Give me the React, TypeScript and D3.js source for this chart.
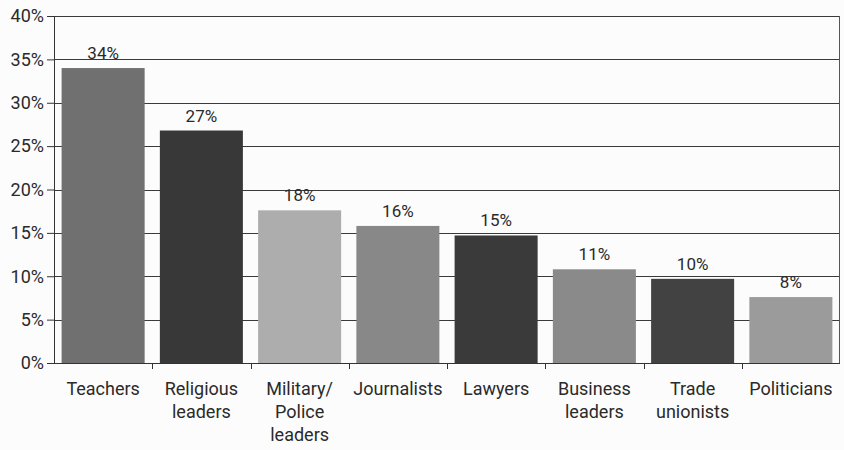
import { useEffect, useRef } from "react";
import * as d3 from "d3";

const categories = [
  "Teachers",
  "Religious leaders",
  "Military/ Police leaders",
  "Journalists",
  "Lawyers",
  "Business leaders",
  "Trade unionists",
  "Politicians",
];
const values = [34, 26.8, 17.6, 15.8, 14.7, 10.8, 9.7, 7.6];
const barColors = ["#707070", "#383838", "#adadad", "#888888", "#3a3a3a", "#8a8a8a", "#424242", "#9b9b9b"];
const yTicks = [0, 5, 10, 15, 20, 25, 30, 35, 40];

const labelLines: Record<string, string[]> = {
  "Religious leaders": ["Religious", "leaders"],
  "Military/ Police leaders": ["Military/", "Police", "leaders"],
  "Business leaders": ["Business", "leaders"],
  "Trade unionists": ["Trade", "unionists"],
};

export default function App() {
  const ref = useRef<SVGSVGElement>(null);
  const width = 844;
  const height = 450;

  useEffect(() => {
    if (!ref.current) return;
    const margin = { top: 16, right: 4, bottom: 87, left: 54 };
    const innerWidth = width - margin.left - margin.right;
    const innerHeight = height - margin.top - margin.bottom;
    const font = "Roboto, 'Liberation Sans', sans-serif";

    d3.select(ref.current).selectAll("*").remove();
    const root = d3.select(ref.current).attr("width", width).attr("height", height);
    root.append("rect").attr("width", width).attr("height", height).attr("fill", "#fcfcfc");

    const svg = root.append("g").attr("transform", `translate(${margin.left},${margin.top})`);

    const x = d3.scaleBand().domain(categories).range([0, innerWidth]).paddingInner(0.155).paddingOuter(0.0775);
    const y = d3.scaleLinear().domain([0, 40]).range([innerHeight, 0]);

    // gridlines
    svg
      .append("g")
      .selectAll("line")
      .data(yTicks.slice(1))
      .join("line")
      .attr("x1", 0)
      .attr("x2", innerWidth)
      .attr("y1", (d) => Math.round(y(d)) + 0.5)
      .attr("y2", (d) => Math.round(y(d)) + 0.5)
      .attr("stroke", "#3a3a3a")
      .attr("stroke-width", 1);

    // right border
    svg
      .append("line")
      .attr("x1", innerWidth - 0.5)
      .attr("x2", innerWidth - 0.5)
      .attr("y1", 0)
      .attr("y2", innerHeight)
      .attr("stroke", "#555")
      .attr("stroke-width", 1);

    svg
      .selectAll("rect.bar")
      .data(values)
      .join("rect")
      .attr("class", "bar")
      .attr("x", (_, i) => x(categories[i]) ?? 0)
      .attr("width", x.bandwidth())
      .attr("y", (d) => y(d))
      .attr("height", (d) => innerHeight - y(d))
      .attr("fill", (_, i) => barColors[i]);

    svg
      .selectAll("text.val")
      .data(values)
      .join("text")
      .attr("class", "val")
      .attr("x", (_, i) => (x(categories[i]) ?? 0) + x.bandwidth() / 2)
      .attr("y", (d) => y(d) - 9)
      .attr("text-anchor", "middle")
      .style("font-family", font)
      .style("font-size", "17px")
      .style("fill", "#2a2a2a")
      .text((d) => `${Math.round(d)}%`);

    // y axis
    const yAxis = d3
      .axisLeft(y)
      .tickValues(yTicks)
      .tickSize(7)
      .tickPadding(3)
      .tickFormat((d) => `${d}%`);
    const yAxisGroup = svg.append("g").call(yAxis);
    yAxisGroup.selectAll("line, path").style("stroke", "#333");
    yAxisGroup
      .selectAll("text")
      .style("fill", "#2a2a2a")
      .style("font-family", font)
      .style("font-size", "18px");

    // x axis
    const xAxisGroup = svg.append("g").attr("transform", `translate(0,${innerHeight})`);
    xAxisGroup
      .append("line")
      .attr("x1", 0)
      .attr("x2", innerWidth)
      .attr("y1", 0.5)
      .attr("y2", 0.5)
      .attr("stroke", "#333");
    const step = x.step();
    xAxisGroup
      .selectAll("line.tick")
      .data(d3.range(1, categories.length))
      .join("line")
      .attr("class", "tick")
      .attr("x1", (i) => Math.round(i * step) + 0.5)
      .attr("x2", (i) => Math.round(i * step) + 0.5)
      .attr("y1", 0)
      .attr("y2", 6)
      .attr("stroke", "#333");

    const labels = xAxisGroup
      .selectAll("text")
      .data(categories)
      .join("text")
      .attr("x", (d) => (x(d) ?? 0) + x.bandwidth() / 2)
      .attr("y", 32)
      .attr("text-anchor", "middle")
      .style("font-family", font)
      .style("font-size", "18px")
      .style("fill", "#2a2a2a");
    labels.each(function (d) {
      const lines = labelLines[d] ?? [d];
      d3.select(this)
        .selectAll("tspan")
        .data(lines)
        .join("tspan")
        .attr("x", (x(d) ?? 0) + x.bandwidth() / 2)
        .attr("dy", (_, i) => (i === 0 ? 0 : 23))
        .text((l) => l);
    });
  }, []);

  return <svg ref={ref} style={{ position: "absolute", left: 0, top: 0 }} />;
}
